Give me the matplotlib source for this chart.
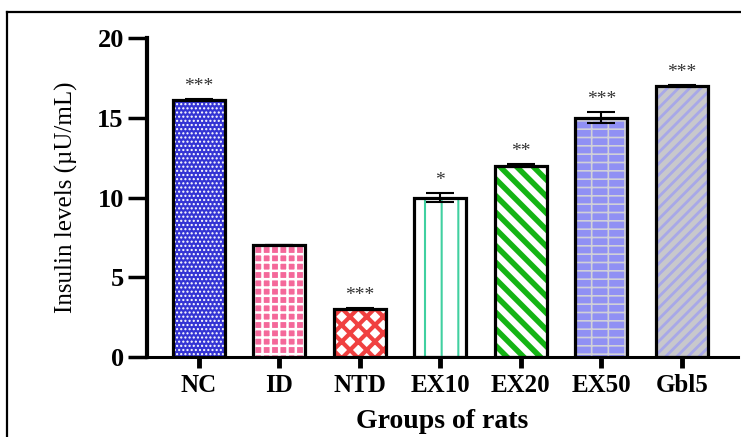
import matplotlib
matplotlib.use('Agg')
import matplotlib.pyplot as plt
from matplotlib.lines import Line2D
import numpy as np

groups = ['NC', 'ID', 'NTD', 'EX10', 'EX20', 'EX50', 'Gbl5']
insulin = [16.1, 7.0, 3.0, 10.0, 12.0, 15.0, 17.0]
sem = [0.05, 0.0, 0.05, 0.3, 0.1, 0.35, 0.05]
stars = ['***', '', '***', '*', '**', '***', '***']

face_cols = ['#3434d4', '#f4689a', '#ffffff', '#ffffff', '#ffffff', '#9090f4', '#c8c8cc']
hatch_cols = ['#ffffff', '#ffffff', '#f04040', '#40d0a0', '#14b414', '#d0d0d8', '#a8a8e8']
hatches = ['....', '++', 'xx', '|', '\\\\', '--|', '///']
hatch_lw = [1.0, 1.8, 3.0, 1.5, 4.0, 1.2, 2.0]

plt.rcParams['font.family'] = ['Liberation Serif', 'DejaVu Serif']

fig = plt.figure(figsize=(7.41, 4.37), dpi=100)
ax = fig.add_axes([0.198, 0.183, 0.798, 0.730])

x = np.arange(len(groups))
for i in range(len(groups)):
    with plt.rc_context({'hatch.linewidth': hatch_lw[i]}):
        b = ax.bar(x[i], insulin[i], width=0.65, color=face_cols[i],
                   edgecolor=hatch_cols[i], hatch=hatches[i], linewidth=0, zorder=2)
    if hasattr(b[0], 'set_hatch_linewidth'):
        b[0].set_hatch_linewidth(hatch_lw[i])
ax.bar(x, insulin, width=0.65, facecolor='none', edgecolor='black', linewidth=2.3, zorder=3)
ax.errorbar(x, insulin, yerr=sem, fmt='none', ecolor='black', elinewidth=1.5,
            capsize=10, capthick=1.5, zorder=4)

for i in range(len(groups)):
    if stars[i]:
        ax.annotate(stars[i], (x[i], insulin[i] + sem[i]), xytext=(0, 3),
                    textcoords='offset points', ha='center', va='bottom',
                    fontsize=14, color='#333333')

ax.set_xlim(-0.646, 6.70)
ax.set_ylim(0, 20)
ax.set_yticks([0, 5, 10, 15, 20])
ax.set_xticks(x)
ax.set_xticklabels(groups, fontsize=18, fontweight='bold')
for lab in ax.get_yticklabels():
    lab.set_fontsize(19)
    lab.set_fontweight('bold')
ax.spines['top'].set_visible(False)
ax.spines['right'].set_visible(False)
ax.spines['left'].set_linewidth(3)
ax.spines['bottom'].set_linewidth(2.2)
ax.tick_params(axis='y', length=13.5, width=2.5, pad=3)
ax.tick_params(axis='x', length=8, width=3.5, pad=4)
ax.set_ylabel('Insulin levels (µU/mL)', fontsize=18, labelpad=14)
ax.set_xlabel('Groups of rats', fontsize=20, fontweight='bold', labelpad=9)

# frame lines of the original figure (top and left)
fig.add_artist(Line2D([0.0095, 1.0], [0.972, 0.972], color='black', lw=1.6))
fig.add_artist(Line2D([0.0095, 0.0095], [0.0, 0.972], color='black', lw=1.6))

fig.savefig('out.png', dpi=100)
